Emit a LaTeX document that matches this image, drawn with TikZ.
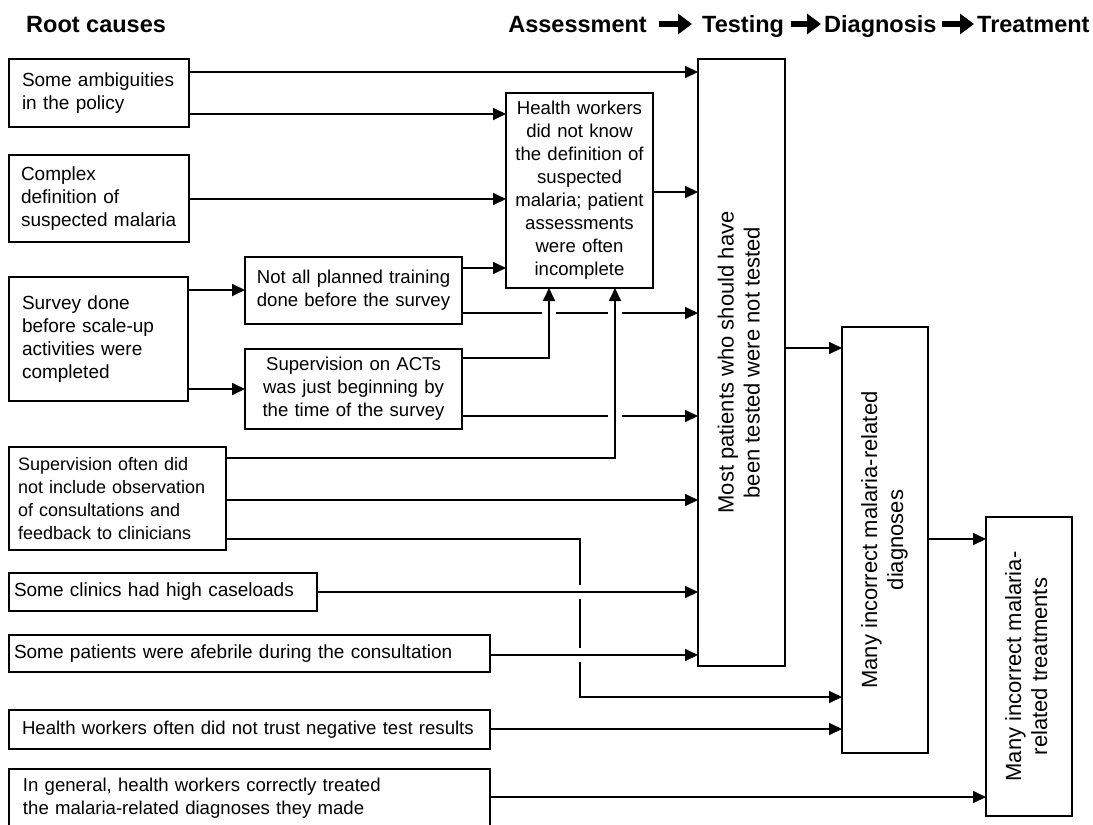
\documentclass[tikz,border=0pt]{standalone}
\usepackage{fontspec}
\setmainfont{Liberation Sans}
\usepackage{graphicx}
\usepackage{tikz}
\usetikzlibrary{arrows.meta,calc}
\hyphenpenalty=10000
\exhyphenpenalty=10000
\tikzstyle{box} = [draw, line width=1.8pt, outer sep=0pt, anchor=north west, inner ysep=2pt, font=\fontsize{19}{23}\selectfont]
\tikzstyle{lbox} = [box, align=left]
\tikzstyle{cbox} = [box, align=center]
\tikzstyle{small} = [font=\fontsize{18.6}{23}\selectfont]
\tikzstyle{vbox} = [draw, line width=1.8pt, outer sep=0pt, inner sep=0pt, font=\fontsize{22}{26}\selectfont]
\tikzstyle{arrow} = [draw, line width=1.8pt, -{Triangle[length=13pt,width=12pt]}]
\tikzstyle{gap} = [draw=white, line width=14pt]
\tikzstyle{head} = [inner sep=0pt, anchor=base west, font=\fontsize{23.5}{27}\selectfont\bfseries]
\tikzstyle{headarrow} = [draw, line width=6pt, -{Triangle[length=14pt,width=20pt]}]

\begin{document}
\begin{tikzpicture}[x=1pt, y=-1pt]
      \useasboundingbox (0,0) rectangle (1093,825);

      % headings
      \node[head] (hroot) at (26,32) {Root causes};
      \node[head, anchor=base east] (hass) at (647,32) {Assessment};
      \node[head] (htest) at (702,32) {Testing};
      \node[head] (hdiag) at (824,32) {Diagnosis};
      \node[head] (htreat) at (977,32) {Treatment};
      \draw[headarrow] ([xshift=12pt]hass.east |- 0,24) -- ([xshift=-10pt]htest.west |- 0,24);
      \draw[headarrow] ([xshift=7pt]htest.east |- 0,24) -- ([xshift=-3pt]hdiag.west |- 0,24);
      \draw[headarrow] ([xshift=5pt]hdiag.east |- 0,24) -- ([xshift=-3pt]htreat.west |- 0,24);

      % root causes
      \node[lbox, text width=154pt, inner xsep=13pt, minimum height=68pt] (amb) at (9,59) {Some ambiguities\\in the policy};
      \node[lbox, text width=156pt, inner xsep=12pt, minimum height=87pt] (cplx) at (9,155) {Complex\\definition of\\suspected malaria};
      \node[lbox, text width=153pt, inner xsep=13pt, minimum height=124pt] (survey) at (9,277) {Survey done\\before scale-up\\activities were\\completed};
      \node[cbox, small, text width=205pt, inner xsep=6pt, minimum height=67pt] (train) at (245,257) {Not all planned training\\done before the survey};
      \node[cbox, small, text width=205pt, inner xsep=6pt, minimum height=80pt] (acts) at (245,349) {Supervision on ACTs\\was just beginning by\\the time of the survey};
      \node[cbox, small, text width=135pt, inner xsep=6pt, inner ysep=1pt, minimum height=195pt] (know) at (506,93) {Health workers\\did not know\\the definition of\\suspected\\malaria; patient\\assessments\\were often\\incomplete};
      \node[lbox, font=\fontsize{18}{23}\selectfont, text width=199pt, inner xsep=9pt, minimum height=103pt] (superv) at (9,447) {Supervision often did\\not include observation\\of consultations and\\feedback to clinicians};
      \node[lbox, text width=298pt, inner xsep=5pt, minimum height=38pt] (load) at (9,573) {Some clinics had high caseloads};
      \node[lbox, text width=471pt, inner xsep=5pt, minimum height=37pt] (afeb) at (9,635) {Some patients were afebrile during the consultation};
      \node[lbox, small, text width=467pt, inner xsep=7pt, minimum height=39pt] (trust) at (9,710) {\hspace*{6pt}Health workers often did not trust negative test results};
      \node[lbox, small, text width=453pt, inner xsep=14pt, minimum height=58pt] (treated) at (9,769) {In general, health workers correctly treated\\the malaria-related diagnoses they made};

      % outcomes
      \node[vbox, minimum width=87pt, minimum height=607pt] (tested) at (741.5,362.5) {\rotatebox{90}{\begin{tabular}{@{}c@{}}Most patients who should have\\been tested were not tested\end{tabular}}};
      \node[vbox, minimum width=86pt, minimum height=426pt] (diag) at (885,540) {\rotatebox{90}{\begin{tabular}{@{}c@{}}Many incorrect malaria-related\\diagnoses\end{tabular}}};
      \node[vbox, minimum width=86pt, minimum height=299pt] (treat) at (1029,666.5) {\rotatebox{90}{\begin{tabular}{@{}c@{}}Many incorrect malaria-\\related treatments\end{tabular}}};

      \coordinate (dturn) at (580,697);

      \draw[arrow] (amb.east |- 0,72) -- (tested.west |- 0,72);
      \draw[arrow] (amb.east |- 0,114) -- (know.west |- 0,114);
      \draw[arrow] (cplx.east |- 0,199) -- (know.west |- 0,199);
      \draw[arrow] (know.east |- 0,192) -- (tested.west |- 0,192);
      \draw[arrow] (survey.east |- 0,290) -- (train.west |- 0,290);
      \draw[arrow] (survey.east |- 0,389) -- (acts.west |- 0,389);
      \draw[arrow] (train.east |- 0,268) -- (know.west |- 0,268);
      \draw[arrow] (train.east |- 0,313) -- (tested.west |- 0,313);
      \draw[arrow] (acts.east |- 0,416) -- (tested.west |- 0,416);
      \draw[arrow] (superv.east |- 0,539) -| (dturn) -- (diag.west |- dturn);

      % breaks where lines cross
      \draw[gap] (549,309) -- (549,317);
      \draw[gap] (615,309) -- (615,317);
      \draw[gap] (615,412) -- (615,420);
      \draw[gap] (576,592) -- (584,592);
      \draw[gap] (576,655) -- (584,655);

      \draw[arrow] (acts.east |- 0,358) -| (know.south -| 549,0);
      \draw[arrow] (superv.east |- 0,458) -| (know.south -| 615,0);
      \draw[arrow] (superv.east |- 0,500) -- (tested.west |- 0,500);
      \draw[arrow] (load.east |- 0,592) -- (tested.west |- 0,592);
      \draw[arrow] (afeb.east |- 0,655) -- (tested.west |- 0,655);
      \draw[arrow] (trust.east |- 0,729) -- (diag.west |- 0,729);
      \draw[arrow] (treated.east |- 0,797) -- (treat.west |- 0,797);
      \draw[arrow] (tested.east |- 0,348) -- (diag.west |- 0,348);
      \draw[arrow] (diag.east |- 0,539) -- (treat.west |- 0,539);
    \end{tikzpicture}
\end{document}
